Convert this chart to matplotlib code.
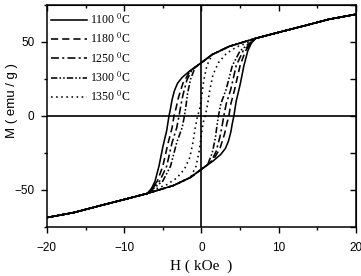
import numpy as np
import matplotlib
matplotlib.use('Agg')
from matplotlib import pyplot as plt
from matplotlib.ticker import MultipleLocator

# sintering temperatures
temps = ['1100', '1180', '1250', '1300', '1350']

# outer part shared by all loops (descending branch, H >= 7 kOe)
env_H = [20, 16.5, 13, 10, 7]
env_M = [68.7, 65.3, 60.5, 56.5, 52.4]

# descending branch of each loop between +6 and -6.5 kOe
h_1100 = [5.8, 3.6, 1.4, 0, -1.5, -2.5, -3.1, -3.5, -3.8, -4.0, -4.2, -4.5, -5.0, -5.5, -6.0, -6.5]
m_1100 = [50.5, 47, 41.5, 36, 30.5, 26, 22, 17, 11, 5, 0, -10, -21, -34, -44, -49.5]

h_1180 = [5.8, 3.6, 1.4, 0, -1.5, -2.4, -3.0, -3.3, -3.55, -3.8, -4.3, -5.0, -5.7, -6.5]
m_1180 = [50.5, 47, 41.5, 36, 30, 22, 12, 5, 0, -8, -18, -34, -44, -49.5]

h_1250 = [5.8, 3.6, 1.4, 0, -1.2, -1.9, -2.4, -2.7, -2.9, -3.2, -3.8, -4.5, -5.4, -6.5]
m_1250 = [50.5, 47, 41.5, 36, 31.5, 24, 14, 6, 0, -8, -18, -34, -44, -49.5]

h_1300 = [5.8, 3.6, 1.4, 0, -0.8, -1.4, -1.8, -2.0, -2.2, -2.5, -3.2, -4.0, -5.0, -6.3]
m_1300 = [50.5, 47, 41.5, 36, 33, 25, 15, 7, 0, -8, -18, -34, -44, -49.5]

h_1350 = [5.8, 3.6, 1.4, 0.7, 0.3, 0.0, -0.25, -0.5, -0.8, -1.1, -1.5, -2.2, -3.2, -4.5, -6.0]
m_1350 = [50.5, 47, 41.5, 34, 24, 12, 4, 0, -8, -18, -28, -36, -42, -46.5, -49.5]

branches = [(h_1100, m_1100), (h_1180, m_1180), (h_1250, m_1250),
            (h_1300, m_1300), (h_1350, m_1350)]
styles = ['-', (0, (4.5, 2.5)), (0, (5, 2, 1.3, 2)),
          (0, (4, 1.3, 1, 1.3, 1, 1.3)), (0, (1, 2.2))]

plt.rcParams['mathtext.fontset'] = 'stix'

fig = plt.figure(figsize=(3.61, 2.76), dpi=100)
ax = fig.add_axes([0.130, 0.178, 0.856, 0.804])

for (h, m), t, ls in zip(branches, temps, styles):
    # descending branch: +20 -> -20, ascending branch is its point mirror
    H_down = np.array(env_H + h + [-x for x in env_H[::-1]])
    M_down = np.array(env_M + m + [-y for y in env_M[::-1]])
    H = np.concatenate([H_down, -H_down])
    M = np.concatenate([M_down, -M_down])
    ax.plot(H, M, color='k', lw=1.15, linestyle=ls, label=t + ' $^{0}$C')

ax.axhline(0, color='k', lw=1.2, zorder=0)
ax.axvline(0, color='k', lw=1.2, zorder=0)

ax.set_xlim(-20, 20)
ax.set_ylim(-75, 75)
ax.xaxis.set_major_locator(MultipleLocator(10))
ax.xaxis.set_minor_locator(MultipleLocator(5))
ax.yaxis.set_major_locator(MultipleLocator(50))
ax.yaxis.set_minor_locator(MultipleLocator(25))
ax.tick_params(which='both', direction='out', width=1.0, labelsize=8.5)
ax.tick_params(axis='x', pad=7)
ax.tick_params(axis='y', pad=5)
ax.tick_params(which='major', length=4)
ax.tick_params(which='minor', length=2.5)
for lab in ax.get_xticklabels() + ax.get_yticklabels():
    lab.set_fontfamily('Liberation Sans')
for s in ax.spines.values():
    s.set_linewidth(1.1)

# mirrored ticks pointing inward on top and right
top = ax.secondary_xaxis('top')
top.xaxis.set_major_locator(MultipleLocator(10))
top.xaxis.set_minor_locator(MultipleLocator(5))
top.tick_params(which='both', direction='in', labeltop=False, width=1.0)
top.tick_params(which='major', length=4)
top.tick_params(which='minor', length=2.5)
right = ax.secondary_yaxis('right')
right.yaxis.set_major_locator(MultipleLocator(50))
right.yaxis.set_minor_locator(MultipleLocator(25))
right.tick_params(which='both', direction='in', labelright=False, width=1.0)
right.tick_params(which='major', length=4)
right.tick_params(which='minor', length=4)

ax.set_xlabel('H ( kOe  )', family='Liberation Serif', fontsize=11, labelpad=4)
fig.text(0.033, 0.635, 'M ( emu / g )', family='Liberation Sans', fontsize=9.5,
         rotation=90, ha='center', va='center')

leg = ax.legend(loc='upper left', bbox_to_anchor=(0.014, 0.965), frameon=False,
                prop={'family': 'Liberation Serif', 'size': 8.5},
                handlelength=3.0, handletextpad=0.3, labelspacing=0.42,
                borderpad=0, borderaxespad=0)

fig.savefig('out.png', dpi=100)
